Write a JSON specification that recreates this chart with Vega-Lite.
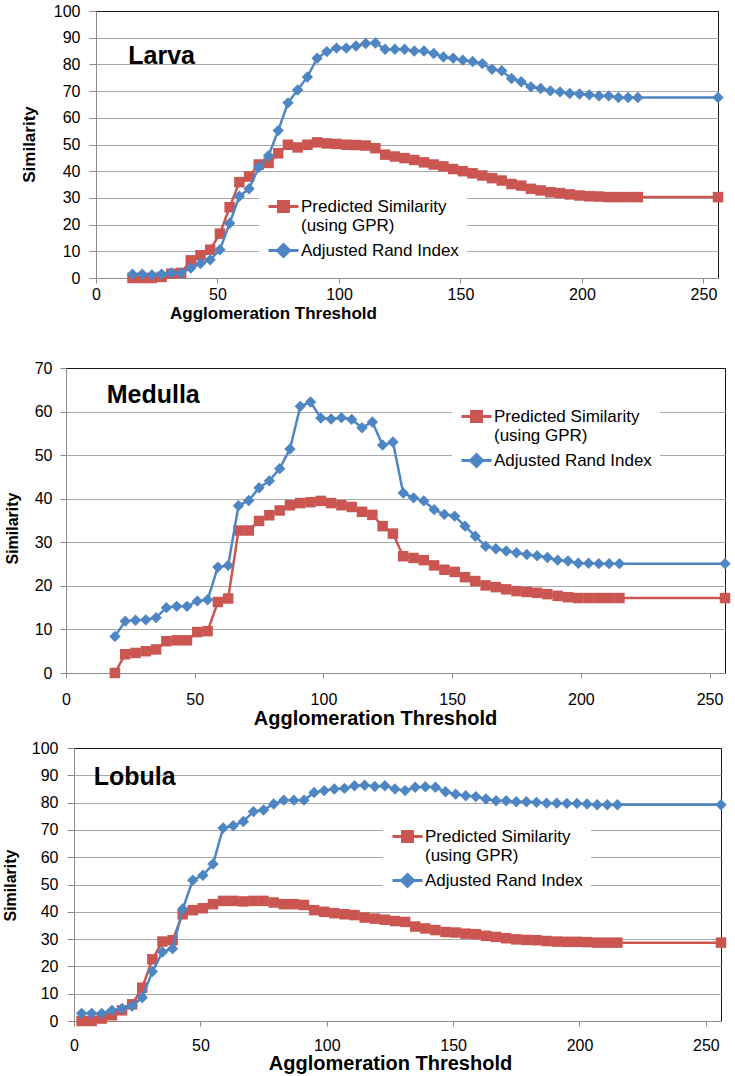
{
  "$schema": "https://vega.github.io/schema/vega-lite/v6.json",
  "padding": {"left": 0, "right": 5, "top": 2, "bottom": 0},
  "background": "white",
  "config": {
    "font": "Liberation Sans",
    "view": {"stroke": null},
    "axis": {"labelFont": "Liberation Sans", "titleFont": "Liberation Sans", "labelColor": "#000", "titleColor": "#000", "labelFlush": false, "labelOverlap": false, "domainColor": "#8c8c8c", "tickColor": "#8c8c8c", "labelFontSize": 16, "titleFontWeight": "bold"},
    "legend": {"labelFont": "Liberation Sans"}
  },
  "datasets": {
    "larva": [
      {"t":15,"gpr":0,"ari":1.4},{"t":19,"gpr":0,"ari":1.4},{"t":23,"gpr":0,"ari":1.1},{"t":27,"gpr":0.4,"ari":1.4},
      {"t":31,"gpr":1.6,"ari":1.9},{"t":35,"gpr":1.9,"ari":1.9},{"t":39,"gpr":6.6,"ari":3.7},{"t":43,"gpr":8.5,"ari":5.4},
      {"t":47,"gpr":10.6,"ari":6.8},{"t":51,"gpr":16.6,"ari":10.6},{"t":55,"gpr":26.5,"ari":20.5},{"t":59,"gpr":35.9,"ari":30.6},
      {"t":63,"gpr":38.0,"ari":33.4},{"t":67,"gpr":42.5,"ari":41.5},{"t":71,"gpr":43.1,"ari":45.8},{"t":75,"gpr":46.7,"ari":55.2},
      {"t":79,"gpr":49.9,"ari":65.6},{"t":83,"gpr":48.9,"ari":70.4},{"t":87,"gpr":49.9,"ari":75.3},{"t":91,"gpr":50.8,"ari":82.3},
      {"t":95,"gpr":50.4,"ari":84.8},{"t":99,"gpr":50.2,"ari":86.1},{"t":103,"gpr":49.9,"ari":86.1},{"t":107,"gpr":49.8,"ari":86.9},
      {"t":111,"gpr":49.6,"ari":87.8},{"t":115,"gpr":48.6,"ari":88.0},{"t":119,"gpr":46.2,"ari":85.7},{"t":123,"gpr":45.5,"ari":85.7},
      {"t":127,"gpr":44.9,"ari":85.7},{"t":131,"gpr":44.2,"ari":85.0},{"t":135,"gpr":43.3,"ari":85.0},{"t":139,"gpr":42.5,"ari":84.1},
      {"t":143,"gpr":41.8,"ari":82.8},{"t":147,"gpr":40.8,"ari":82.3},{"t":151,"gpr":40.0,"ari":81.6},{"t":155,"gpr":39.2,"ari":81.1},
      {"t":159,"gpr":38.4,"ari":80.3},{"t":163,"gpr":37.4,"ari":78.2},{"t":167,"gpr":36.5,"ari":77.6},{"t":171,"gpr":35.2,"ari":74.7},
      {"t":175,"gpr":34.6,"ari":73.5},{"t":179,"gpr":33.4,"ari":71.6},{"t":183,"gpr":32.8,"ari":71.0},{"t":187,"gpr":32.1,"ari":70.1},
      {"t":191,"gpr":31.8,"ari":69.7},{"t":195,"gpr":31.3,"ari":69.1},{"t":199,"gpr":30.9,"ari":68.9},{"t":203,"gpr":30.6,"ari":68.6},
      {"t":207,"gpr":30.5,"ari":68.2},{"t":211,"gpr":30.3,"ari":68.2},{"t":215,"gpr":30.3,"ari":67.6},{"t":219,"gpr":30.3,"ari":67.6},
      {"t":223,"gpr":30.3,"ari":67.6},{"t":256,"gpr":30.3,"ari":67.6}
    ],
    "medulla": [
      {"t":19,"gpr":0,"ari":8.4},{"t":23,"gpr":4.3,"ari":11.9},{"t":27,"gpr":4.6,"ari":12.1},{"t":31,"gpr":5.0,"ari":12.2},
      {"t":35,"gpr":5.4,"ari":12.7},{"t":39,"gpr":7.3,"ari":15.0},{"t":43,"gpr":7.5,"ari":15.3},{"t":47,"gpr":7.5,"ari":15.3},
      {"t":51,"gpr":9.4,"ari":16.5},{"t":55,"gpr":9.6,"ari":16.8},{"t":59,"gpr":16.3,"ari":24.3},{"t":63,"gpr":17.1,"ari":24.7},
      {"t":67,"gpr":32.7,"ari":38.4},{"t":71,"gpr":32.7,"ari":39.6},{"t":75,"gpr":34.9,"ari":42.5},{"t":79,"gpr":36.2,"ari":44.1},
      {"t":83,"gpr":37.3,"ari":46.9},{"t":87,"gpr":38.5,"ari":51.4},{"t":91,"gpr":39.0,"ari":61.2},{"t":95,"gpr":39.2,"ari":62.2},
      {"t":99,"gpr":39.5,"ari":58.5},{"t":103,"gpr":39.0,"ari":58.3},{"t":107,"gpr":38.5,"ari":58.6},{"t":111,"gpr":38.1,"ari":58.2},
      {"t":115,"gpr":37.0,"ari":56.3},{"t":119,"gpr":36.3,"ari":57.6},{"t":123,"gpr":33.7,"ari":52.3},{"t":127,"gpr":32.0,"ari":53.0},
      {"t":131,"gpr":26.8,"ari":41.3},{"t":135,"gpr":26.4,"ari":40.2},{"t":139,"gpr":25.9,"ari":39.5},{"t":143,"gpr":24.7,"ari":37.5},
      {"t":147,"gpr":23.7,"ari":36.4},{"t":151,"gpr":23.2,"ari":36.0},{"t":155,"gpr":22.0,"ari":33.7},{"t":159,"gpr":21.1,"ari":31.4},
      {"t":163,"gpr":20.1,"ari":29.1},{"t":167,"gpr":19.7,"ari":28.5},{"t":171,"gpr":19.2,"ari":28.0},{"t":175,"gpr":18.8,"ari":27.6},
      {"t":179,"gpr":18.6,"ari":27.2},{"t":183,"gpr":18.4,"ari":26.9},{"t":187,"gpr":18.1,"ari":26.5},{"t":191,"gpr":17.7,"ari":25.9},
      {"t":195,"gpr":17.4,"ari":25.7},{"t":199,"gpr":17.2,"ari":25.2},{"t":203,"gpr":17.2,"ari":25.2},{"t":207,"gpr":17.2,"ari":25.1},
      {"t":211,"gpr":17.2,"ari":25.1},{"t":215,"gpr":17.2,"ari":25.1},{"t":256,"gpr":17.2,"ari":25.1}
    ],
    "lobula": [
      {"t":3,"gpr":0,"ari":2.8},{"t":7,"gpr":0,"ari":2.8},{"t":11,"gpr":0.9,"ari":2.8},{"t":15,"gpr":2.1,"ari":3.9},
      {"t":19,"gpr":3.9,"ari":4.6},{"t":23,"gpr":6.1,"ari":5.5},{"t":27,"gpr":12.2,"ari":8.6},{"t":31,"gpr":22.6,"ari":18.1},
      {"t":35,"gpr":29.1,"ari":25.3},{"t":39,"gpr":29.6,"ari":26.5},{"t":43,"gpr":39.1,"ari":41.0},{"t":47,"gpr":40.6,"ari":51.6},
      {"t":51,"gpr":41.3,"ari":53.4},{"t":55,"gpr":42.8,"ari":57.5},{"t":59,"gpr":44.0,"ari":70.7},{"t":63,"gpr":44.0,"ari":71.5},
      {"t":67,"gpr":43.8,"ari":73.1},{"t":71,"gpr":44.0,"ari":76.7},{"t":75,"gpr":44.0,"ari":77.3},{"t":79,"gpr":43.4,"ari":79.5},
      {"t":83,"gpr":42.8,"ari":80.9},{"t":87,"gpr":42.8,"ari":80.9},{"t":91,"gpr":42.5,"ari":80.9},{"t":95,"gpr":40.6,"ari":83.7},
      {"t":99,"gpr":40.0,"ari":84.4},{"t":103,"gpr":39.5,"ari":85.0},{"t":107,"gpr":39.1,"ari":85.2},{"t":111,"gpr":38.8,"ari":86.2},
      {"t":115,"gpr":37.9,"ari":86.4},{"t":119,"gpr":37.5,"ari":85.9},{"t":123,"gpr":37.1,"ari":86.2},{"t":127,"gpr":36.6,"ari":85.0},
      {"t":131,"gpr":36.3,"ari":84.4},{"t":135,"gpr":34.6,"ari":85.6},{"t":139,"gpr":33.9,"ari":85.8},{"t":143,"gpr":33.3,"ari":85.6},
      {"t":147,"gpr":32.6,"ari":84.0},{"t":151,"gpr":32.4,"ari":83.1},{"t":155,"gpr":32.0,"ari":82.5},{"t":159,"gpr":31.8,"ari":82.2},
      {"t":163,"gpr":31.2,"ari":81.3},{"t":167,"gpr":30.8,"ari":80.7},{"t":171,"gpr":30.3,"ari":80.7},{"t":175,"gpr":29.9,"ari":80.3},
      {"t":179,"gpr":29.7,"ari":80.3},{"t":183,"gpr":29.6,"ari":80.1},{"t":187,"gpr":29.3,"ari":79.8},{"t":191,"gpr":29.1,"ari":79.8},
      {"t":195,"gpr":29.0,"ari":79.7},{"t":199,"gpr":29.0,"ari":79.7},{"t":203,"gpr":28.9,"ari":79.5},{"t":207,"gpr":28.7,"ari":79.2},
      {"t":211,"gpr":28.7,"ari":79.2},{"t":215,"gpr":28.7,"ari":79.2},{"t":256,"gpr":28.7,"ari":79.2}
    ],
    "labels": [{"panel": "Larva"}, {"panel": "Medulla"}, {"panel": "Lobula"}]
  },
  "spacing": 10,
  "resolve": {"scale": {"color": "independent"}, "legend": {"color": "independent"}},
  "vconcat": [
    {
      "spacing": 0,
      "resolve": {"scale": {"color": "independent"}, "legend": {"color": "independent"}},
      "hconcat": [
        {"width": 19, "height": 338, "data": {"values": []}, "mark": "point"},
        {
          "width": 622, "height": 267,
          "view": {"stroke": "#1a1a1a", "strokeWidth": 1},
          "layer": [
            {
              "data": {"name": "larva"},
              "transform": [{"fold": ["gpr", "ari"], "as": ["key", "v"]}],
              "encoding": {
                "x": {"field": "t", "type": "quantitative", "scale": {"domain": [0, 256], "nice": false},
                  "axis": {"values": [0, 50, 100, 150, 200, 250], "grid": false, "tickSize": 5, "labelPadding": 3,
                    "title": "Agglomeration Threshold", "titleFontSize": 17, "titleX": 177, "titleY": 35, "titleBaseline": "middle", "titleAlign": "center"}},
                "y": {"field": "v", "type": "quantitative", "scale": {"domain": [0, 100], "nice": false},
                  "axis": {"values": [0, 10, 20, 30, 40, 50, 60, 70, 80, 90, 100], "grid": true,
                    "gridColor": {"condition": {"test": "datum.value >= 100", "value": "#1a1a1a"}, "value": "#a8a8a8"},
                    "tickSize": 7, "labelPadding": 9,
                    "title": "Similarity", "titleFontSize": 17, "titleX": -58, "titleY": 133, "titleAngle": 270, "titleBaseline": "bottom", "titleAlign": "center"}},
                "color": {"field": "key", "type": "nominal", "scale": {"domain": ["gpr", "ari"], "range": ["#CB5651", "#4E86C4"]},
                  "legend": {"orient": "none", "legendX": 163, "legendY": 171, "title": null, "fillColor": "white", "padding": 8, "zindex": 1,
                    "labelFontSize": 17, "labelColor": "#000", "labelOffset": 1, "labelLimit": 400, "symbolSize": 900, "symbolStrokeWidth": 3, "rowPadding": -8,
                    "labelExpr": "datum.value == 'gpr' ? ['Predicted Similarity', '(using GPR)'] : 'Adjusted Rand Index'",
                    "encode": {"symbols": {"update": {
                      "shape": {"signal": "datum.value == 'gpr' ? 'M-1,0H1M-0.33,-0.33H0.33V0.33H-0.33Z' : 'M-1,0H1M0,-0.4L0.4,0L0,0.4L-0.4,0Z'"},
                      "fill": {"signal": "datum.value == 'gpr' ? '#CB5651' : '#4E86C4'"},
                      "stroke": {"signal": "datum.value == 'gpr' ? '#CB5651' : '#4E86C4'"},
                      "strokeWidth": {"value": 3}, "opacity": {"value": 1}, "fillOpacity": {"value": 1}, "strokeOpacity": {"value": 1}}}}}}
              },
              "layer": [
                {"transform": [{"filter": "datum.key == 'gpr'"}], "mark": {"type": "line", "strokeWidth": 2.5}},
                {"transform": [{"filter": "datum.key == 'gpr'"}], "mark": {"type": "point", "shape": "square", "filled": true, "size": 110, "opacity": 1}},
                {"transform": [{"filter": "datum.key == 'ari'"}], "mark": {"type": "line", "strokeWidth": 2.5}},
                {"transform": [{"filter": "datum.key == 'ari'"}], "mark": {"type": "point", "shape": "diamond", "filled": true, "size": 130, "opacity": 1}}
              ]
            },
            {"data": {"name": "labels"}, "transform": [{"filter": "datum.panel == 'Larva'"}],
              "mark": {"type": "text", "fontSize": 25, "fontWeight": "bold", "align": "left", "baseline": "middle", "color": "#000"},
              "encoding": {
                "x": {"datum": 13.3, "type": "quantitative",
                  "axis": {"values": [0, 50, 100, 150, 200, 250], "grid": false, "tickSize": 5, "labelPadding": 3,
                    "title": "Agglomeration Threshold", "titleFontSize": 17, "titleX": 177, "titleY": 35, "titleBaseline": "middle", "titleAlign": "center"}},
                "y": {"datum": 83, "type": "quantitative",
                  "axis": {"values": [0, 10, 20, 30, 40, 50, 60, 70, 80, 90, 100], "grid": true,
                    "gridColor": {"condition": {"test": "datum.value >= 100", "value": "#1a1a1a"}, "value": "#a8a8a8"},
                    "tickSize": 7, "labelPadding": 9,
                    "title": "Similarity", "titleFontSize": 17, "titleX": -58, "titleY": 133, "titleAngle": 270, "titleBaseline": "bottom", "titleAlign": "center"}},
                "text": {"field": "panel", "type": "nominal"}}}
          ]
        }
      ]
    },
    {
      "spacing": 0,
      "resolve": {"scale": {"color": "independent"}, "legend": {"color": "independent"}},
      "hconcat": [
        {"width": 3, "height": 359, "data": {"values": []}, "mark": "point"},
        {
          "width": 659, "height": 305,
          "view": {"stroke": "#1a1a1a", "strokeWidth": 1},
          "layer": [
            {
              "data": {"name": "medulla"},
              "transform": [{"fold": ["gpr", "ari"], "as": ["key", "v"]}],
              "encoding": {
                "x": {"field": "t", "type": "quantitative", "scale": {"domain": [0, 256], "nice": false},
                  "axis": {"values": [0, 50, 100, 150, 200, 250], "grid": false, "tickSize": 5, "labelPadding": 13,
                    "title": "Agglomeration Threshold", "titleFontSize": 20, "titleX": 309, "titleY": 45, "titleBaseline": "middle", "titleAlign": "center"}},
                "y": {"field": "v", "type": "quantitative", "scale": {"domain": [0, 70], "nice": false},
                  "axis": {"values": [0, 10, 20, 30, 40, 50, 60, 70], "grid": true,
                    "gridColor": {"condition": {"test": "datum.value >= 70", "value": "#1a1a1a"}, "value": "#a8a8a8"},
                    "tickSize": 6, "labelPadding": 8,
                    "title": "Similarity", "titleFontSize": 16, "titleX": -46, "titleY": 160, "titleAngle": 270, "titleBaseline": "bottom", "titleAlign": "center"}},
                "color": {"field": "key", "type": "nominal", "scale": {"domain": ["gpr", "ari"], "range": ["#CB5651", "#4E86C4"]},
                  "legend": {"orient": "none", "legendX": 386, "legendY": 24, "title": null, "fillColor": "white", "padding": 8, "zindex": 1,
                    "labelFontSize": 17, "labelColor": "#000", "labelOffset": 1, "labelLimit": 400, "symbolSize": 900, "symbolStrokeWidth": 3, "rowPadding": -4,
                    "labelExpr": "datum.value == 'gpr' ? ['Predicted Similarity', '(using GPR)'] : 'Adjusted Rand Index'",
                    "encode": {"symbols": {"update": {
                      "shape": {"signal": "datum.value == 'gpr' ? 'M-1,0H1M-0.33,-0.33H0.33V0.33H-0.33Z' : 'M-1,0H1M0,-0.4L0.4,0L0,0.4L-0.4,0Z'"},
                      "fill": {"signal": "datum.value == 'gpr' ? '#CB5651' : '#4E86C4'"},
                      "stroke": {"signal": "datum.value == 'gpr' ? '#CB5651' : '#4E86C4'"},
                      "strokeWidth": {"value": 3}, "opacity": {"value": 1}, "fillOpacity": {"value": 1}, "strokeOpacity": {"value": 1}}}}}}
              },
              "layer": [
                {"transform": [{"filter": "datum.key == 'gpr'"}], "mark": {"type": "line", "strokeWidth": 2.5}},
                {"transform": [{"filter": "datum.key == 'gpr'"}], "mark": {"type": "point", "shape": "square", "filled": true, "size": 110, "opacity": 1}},
                {"transform": [{"filter": "datum.key == 'ari'"}], "mark": {"type": "line", "strokeWidth": 2.5}},
                {"transform": [{"filter": "datum.key == 'ari'"}], "mark": {"type": "point", "shape": "diamond", "filled": true, "size": 130, "opacity": 1}}
              ]
            },
            {"data": {"name": "labels"}, "transform": [{"filter": "datum.panel == 'Medulla'"}],
              "mark": {"type": "text", "fontSize": 25, "fontWeight": "bold", "align": "left", "baseline": "middle", "color": "#000"},
              "encoding": {
                "x": {"datum": 15.8, "type": "quantitative",
                  "axis": {"values": [0, 50, 100, 150, 200, 250], "grid": false, "tickSize": 5, "labelPadding": 13,
                    "title": "Agglomeration Threshold", "titleFontSize": 20, "titleX": 309, "titleY": 45, "titleBaseline": "middle", "titleAlign": "center"}},
                "y": {"datum": 63.7, "type": "quantitative",
                  "axis": {"values": [0, 10, 20, 30, 40, 50, 60, 70], "grid": true,
                    "gridColor": {"condition": {"test": "datum.value >= 70", "value": "#1a1a1a"}, "value": "#a8a8a8"},
                    "tickSize": 6, "labelPadding": 8,
                    "title": "Similarity", "titleFontSize": 16, "titleX": -46, "titleY": 160, "titleAngle": 270, "titleBaseline": "bottom", "titleAlign": "center"}},
                "text": {"field": "panel", "type": "nominal"}}}
          ]
        }
      ]
    },
    {
      "spacing": 0,
      "resolve": {"scale": {"color": "independent"}, "legend": {"color": "independent"}},
      "hconcat": [
        {"width": 1, "height": 273, "data": {"values": []}, "mark": "point"},
        {
          "width": 647, "height": 273,
          "view": {"stroke": "#1a1a1a", "strokeWidth": 1},
          "layer": [
            {
              "data": {"name": "lobula"},
              "transform": [{"fold": ["gpr", "ari"], "as": ["key", "v"]}],
              "encoding": {
                "x": {"field": "t", "type": "quantitative", "scale": {"domain": [0, 256], "nice": false},
                  "axis": {"values": [0, 50, 100, 150, 200, 250], "grid": false, "tickSize": 5, "labelPadding": 11,
                    "title": "Agglomeration Threshold", "titleFontSize": 20, "titleX": 316, "titleY": 42, "titleBaseline": "middle", "titleAlign": "center"}},
                "y": {"field": "v", "type": "quantitative", "scale": {"domain": [0, 100], "nice": false},
                  "axis": {"values": [0, 10, 20, 30, 40, 50, 60, 70, 80, 90, 100], "grid": true,
                    "gridColor": {"condition": {"test": "datum.value >= 100", "value": "#1a1a1a"}, "value": "#a8a8a8"},
                    "tickSize": 7, "labelPadding": 9,
                    "title": "Similarity", "titleFontSize": 16, "titleX": -56, "titleY": 137, "titleAngle": 270, "titleBaseline": "bottom", "titleAlign": "center"}},
                "color": {"field": "key", "type": "nominal", "scale": {"domain": ["gpr", "ari"], "range": ["#CB5651", "#4E86C4"]},
                  "legend": {"orient": "none", "legendX": 309, "legendY": 64, "title": null, "fillColor": "white", "padding": 8, "zindex": 1,
                    "labelFontSize": 17, "labelColor": "#000", "labelOffset": 1, "labelLimit": 400, "symbolSize": 900, "symbolStrokeWidth": 3, "rowPadding": -4,
                    "labelExpr": "datum.value == 'gpr' ? ['Predicted Similarity', '(using GPR)'] : 'Adjusted Rand Index'",
                    "encode": {"symbols": {"update": {
                      "shape": {"signal": "datum.value == 'gpr' ? 'M-1,0H1M-0.33,-0.33H0.33V0.33H-0.33Z' : 'M-1,0H1M0,-0.4L0.4,0L0,0.4L-0.4,0Z'"},
                      "fill": {"signal": "datum.value == 'gpr' ? '#CB5651' : '#4E86C4'"},
                      "stroke": {"signal": "datum.value == 'gpr' ? '#CB5651' : '#4E86C4'"},
                      "strokeWidth": {"value": 3}, "opacity": {"value": 1}, "fillOpacity": {"value": 1}, "strokeOpacity": {"value": 1}}}}}}
              },
              "layer": [
                {"transform": [{"filter": "datum.key == 'gpr'"}], "mark": {"type": "line", "strokeWidth": 2.5}},
                {"transform": [{"filter": "datum.key == 'gpr'"}], "mark": {"type": "point", "shape": "square", "filled": true, "size": 110, "opacity": 1}},
                {"transform": [{"filter": "datum.key == 'ari'"}], "mark": {"type": "line", "strokeWidth": 2.5}},
                {"transform": [{"filter": "datum.key == 'ari'"}], "mark": {"type": "point", "shape": "diamond", "filled": true, "size": 130, "opacity": 1}}
              ]
            },
            {"data": {"name": "labels"}, "transform": [{"filter": "datum.panel == 'Lobula'"}],
              "mark": {"type": "text", "fontSize": 25, "fontWeight": "bold", "align": "left", "baseline": "middle", "color": "#000"},
              "encoding": {
                "x": {"datum": 7.8, "type": "quantitative",
                  "axis": {"values": [0, 50, 100, 150, 200, 250], "grid": false, "tickSize": 5, "labelPadding": 11,
                    "title": "Agglomeration Threshold", "titleFontSize": 20, "titleX": 316, "titleY": 42, "titleBaseline": "middle", "titleAlign": "center"}},
                "y": {"datum": 89.5, "type": "quantitative",
                  "axis": {"values": [0, 10, 20, 30, 40, 50, 60, 70, 80, 90, 100], "grid": true,
                    "gridColor": {"condition": {"test": "datum.value >= 100", "value": "#1a1a1a"}, "value": "#a8a8a8"},
                    "tickSize": 7, "labelPadding": 9,
                    "title": "Similarity", "titleFontSize": 16, "titleX": -56, "titleY": 137, "titleAngle": 270, "titleBaseline": "bottom", "titleAlign": "center"}},
                "text": {"field": "panel", "type": "nominal"}}}
          ]
        }
      ]
    }
  ]
}
